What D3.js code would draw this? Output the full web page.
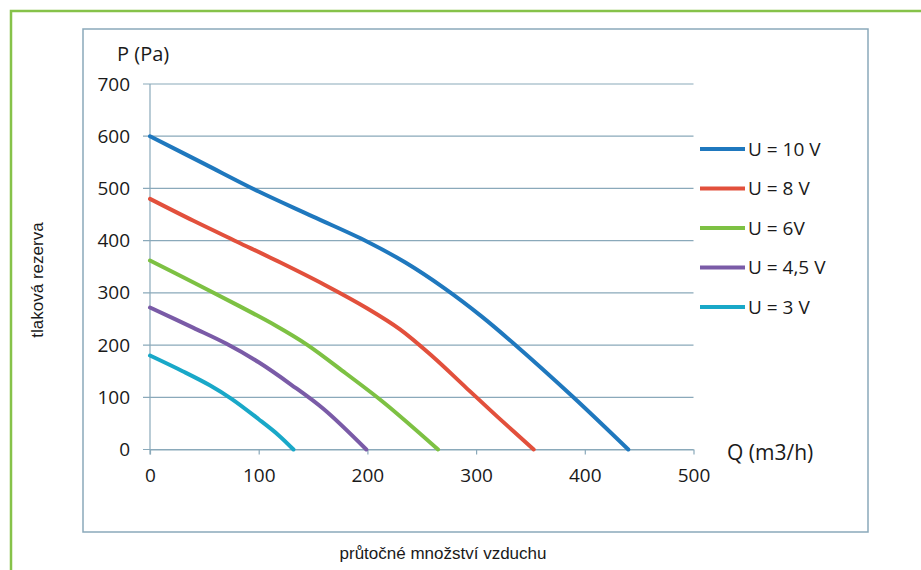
<!DOCTYPE html>
<html>
<head>
<meta charset="utf-8">
<script src="https://cdn.jsdelivr.net/npm/d3@7"></script>
<style>
  body { margin: 0; background: #fff; }
  text { font-family: "Open Sans", sans-serif; fill: #1a1a1a; }
  .title { font-family: "Liberation Sans", Arial, sans-serif; font-size: 17px; }
</style>
</head>
<body>
<div id="chart_area"></div>
<script>
// series names and colours
var seriesNames = ["U = 10 V", "U = 8 V", "U = 6V", "U = 4,5 V", "U = 3 V"];
var seriesColors = ["#1f78be", "#e2503c", "#7dc143", "#7a5ba7", "#19a8c8"];

// air flow Q (m3/h) for each curve
var q10 = [0, 50, 100, 150, 200, 235, 270, 305, 334, 389, 440];
var q8 = [0, 40, 80, 120, 160, 200, 230, 260, 290, 320, 353];
var q6 = [0, 40, 80, 115, 145, 180, 215, 265];
var q45 = [0, 40, 70, 100, 130, 160, 199];
var q3 = [0, 30, 55, 75, 100, 118, 132];

// pressure P (Pa) for each curve
var p10 = [600, 547, 494, 446, 398, 358, 310, 255, 204, 101, 0];
var p8 = [480, 438, 398, 358, 316, 270, 230, 178, 120, 62, 0];
var p6 = [362, 320, 277, 238, 200, 146, 90, 0];
var p45 = [272, 233, 203, 167, 124, 77, 0];
var p3 = [180, 150, 123, 97, 58, 28, 0];

var xTicks = [0, 100, 200, 300, 400, 500];
var yTicks = [0, 100, 200, 300, 400, 500, 600, 700];

var allQ = [q10, q8, q6, q45, q3];
var allP = [p10, p8, p6, p45, p3];

var frame_width = 921, frame_height = 570;

var frame = d3.select("#chart_area").append("svg")
  .attr("width", frame_width)
  .attr("height", frame_height);

// green outer frame (right/bottom edges run off the picture)
frame.append("rect")
  .attr("x", 11).attr("y", 11)
  .attr("width", 930).attr("height", 600)
  .attr("fill", "none")
  .attr("stroke", "#86c24a")
  .attr("stroke-width", 2.5);

// chart box
frame.append("rect")
  .attr("x", 83).attr("y", 29)
  .attr("width", 785).attr("height", 503)
  .attr("fill", "#fff")
  .attr("stroke", "#8aa9ba")
  .attr("stroke-width", 1.5);

var xScale = d3.scaleLinear().domain([0, 500]).range([150, 693.5]);
var yScale = d3.scaleLinear().domain([0, 700]).range([449.5, 84]);

var axisColor = "#8aa9ba";

// horizontal gridlines
frame.append("g").selectAll("line")
  .data(yTicks)
  .enter().append("line")
  .attr("x1", xScale(0) - 7)
  .attr("x2", xScale(500))
  .attr("y1", function (d) { return yScale(d); })
  .attr("y2", function (d) { return yScale(d); })
  .attr("stroke", axisColor)
  .attr("stroke-width", 1.2);

// y axis
var yAxis = d3.axisLeft(yScale).tickValues(yTicks).tickSize(0).tickPadding(20);
var gy = frame.append("g")
  .attr("transform", "translate(" + xScale(0) + ",0)")
  .call(yAxis);
gy.select(".domain").remove();
gy.selectAll("text").attr("font-size", "19px").attr("font-family", "Open Sans").attr("fill", "#1a1a1a");

frame.append("line")
  .attr("x1", xScale(0)).attr("x2", xScale(0))
  .attr("y1", yScale(700)).attr("y2", yScale(0) + 5)
  .attr("stroke", axisColor).attr("stroke-width", 1.2);

// x axis
var xAxis = d3.axisBottom(xScale).tickValues(xTicks).tickSize(5).tickSizeOuter(0).tickPadding(14);
var gx = frame.append("g")
  .attr("transform", "translate(0," + yScale(0) + ")")
  .call(xAxis);
gx.select(".domain").attr("stroke", axisColor).attr("stroke-width", 1.2);
gx.selectAll(".tick line").attr("stroke", axisColor).attr("stroke-width", 1.2);
gx.selectAll("text").attr("font-size", "19px").attr("font-family", "Open Sans").attr("fill", "#1a1a1a");

// curves, smoothed like the spreadsheet original
var line = d3.line()
  .x(function (d) { return xScale(d[0]); })
  .y(function (d) { return yScale(d[1]); })
  .curve(d3.curveCatmullRom.alpha(0.5));

seriesNames.forEach(function (name, i) {
  var pts = allQ[i].map(function (q, j) { return [q, allP[i][j]]; });
  frame.append("path")
    .datum(pts)
    .attr("d", line)
    .attr("fill", "none")
    .attr("stroke", seriesColors[i])
    .attr("stroke-width", 4)
    .attr("stroke-linecap", "round");
});

// legend
var legend = frame.append("g");
seriesNames.forEach(function (name, i) {
  var y = 149 + i * 39.5;
  legend.append("line")
    .attr("x1", 700).attr("x2", 745)
    .attr("y1", y).attr("y2", y)
    .attr("stroke", seriesColors[i])
    .attr("stroke-width", 4);
  legend.append("text")
    .attr("x", 748).attr("y", y)
    .attr("dy", "0.35em")
    .attr("font-size", "19px")
    .text(name);
});

// axis unit labels
frame.append("text")
  .attr("x", 117).attr("y", 54)
  .attr("dy", "0.35em")
  .attr("font-size", "20px")
  .text("P (Pa)");

frame.append("text")
  .attr("x", 727).attr("y", 453)
  .attr("dy", "0.35em")
  .attr("font-size", "21px")
  .text("Q (m3/h)");

// outer titles
frame.append("text")
  .attr("class", "title")
  .attr("transform", "translate(43,280) rotate(-90)")
  .attr("text-anchor", "middle")
  .text("tlaková rezerva");

frame.append("text")
  .attr("class", "title")
  .attr("x", 443).attr("y", 559)
  .attr("text-anchor", "middle")
  .text("průtočné množství vzduchu");
</script>
</body>
</html>
